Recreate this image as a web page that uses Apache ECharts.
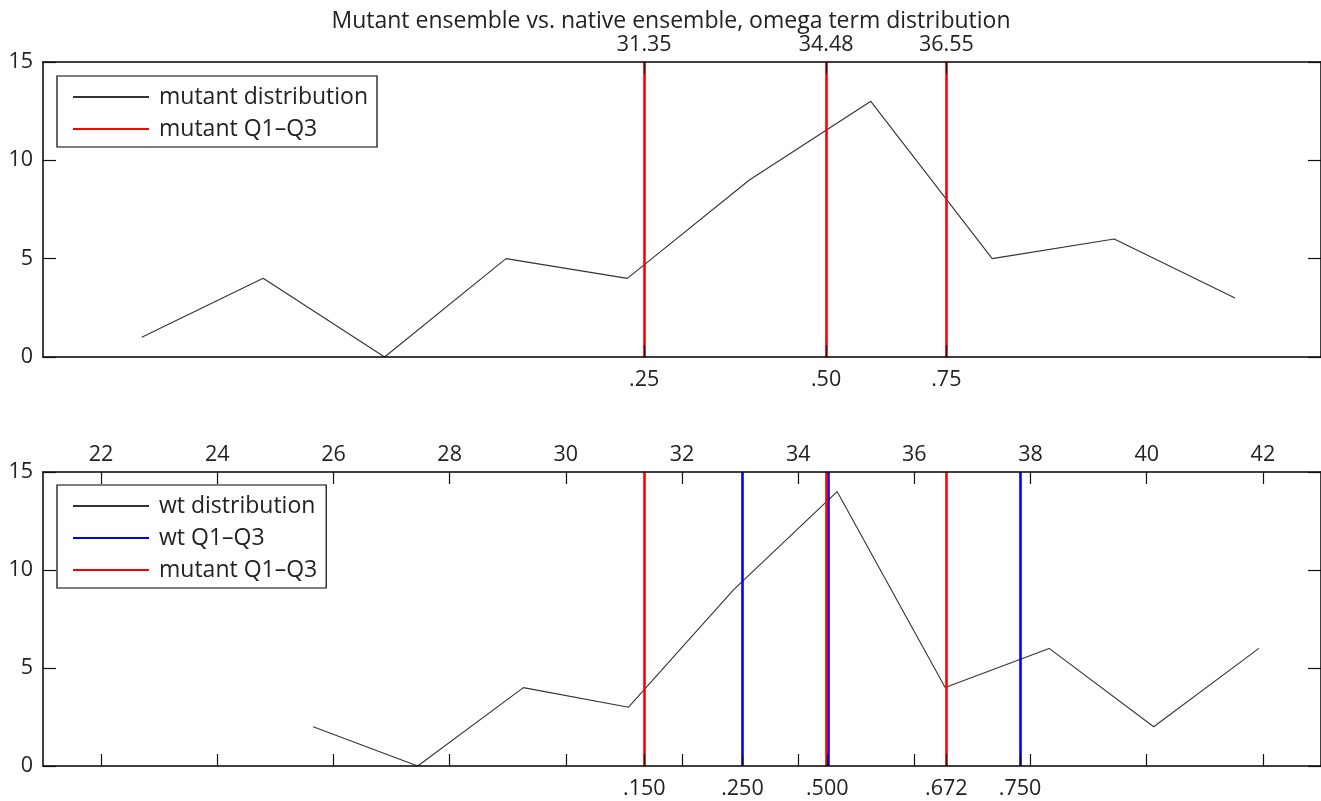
<!DOCTYPE html>
<html>
<head>
<meta charset="utf-8">
<script src="https://cdn.jsdelivr.net/npm/echarts@6/dist/echarts.min.js"></script>
<style>
html,body{margin:0;padding:0;background:#fff;}
#chart{width:1321px;height:801px;}
</style>
</head>
<body>
<div id="chart"></div>
<script>
// ---- data ----
const titleText = 'Mutant ensemble vs. native ensemble, omega term distribution';
const mutantX = [22.70, 24.79, 26.88, 28.97, 31.06, 33.16, 35.25, 37.34, 39.44, 41.52];
const mutantCount = [1, 4, 0, 5, 4, 9, 13, 5, 6, 3];
const wtX = [25.65, 27.45, 29.27, 31.08, 32.89, 34.67, 36.53, 38.32, 40.12, 41.93];
const wtCount = [2, 0, 4, 3, 9, 14, 4, 6, 2, 6];
const mutantQ = [31.35, 34.48, 36.55];
const mutantQTopLabels = ['31.35', '34.48', '36.55'];
const mutantQBottomLabels = ['.25', '.50', '.75'];
const wtQ = [33.04, 34.51, 37.82];
const wtTickValues = [22, 24, 26, 28, 30, 32, 34, 36, 38, 40, 42];
const wtTickLabels = ['22', '24', '26', '28', '30', '32', '34', '36', '38', '40', '42'];
const wtQuantTicks = [31.35, 33.04, 34.50, 36.55, 37.82];
const wtQuantLabels = ['.150', '.250', '.500', '.672', '.750'];

// ---- helpers ----
const FONT = 'Open Sans';
const TXT = '#222';
function lookup(values, labels) {
  return function (v) {
    for (let i = 0; i < values.length; i++) {
      if (Math.abs(values[i] - v) < 1e-6) return labels[i];
    }
    return '';
  };
}
function xAxisDef(gridIndex, position, tickVals, labelVals, labelFmt, margin) {
  return {
    type: 'value', gridIndex: gridIndex, position: position,
    min: 21, max: 43, z: 5,
    axisLine: { show: true, onZero: false, lineStyle: { color: '#000', width: 1.5 } },
    axisTick: { show: true, inside: true, length: 12, customValues: tickVals,
                lineStyle: { color: '#111', width: 1.2 } },
    axisLabel: { show: labelVals.length > 0, customValues: labelVals, formatter: labelFmt,
                 color: TXT, fontSize: 21.5, fontFamily: FONT, margin: margin },
    splitLine: { show: false }
  };
}
function yAxisDef(gridIndex, position, showLabel) {
  return {
    type: 'value', gridIndex: gridIndex, position: position,
    min: 0, max: 15, interval: 5, z: 5,
    axisLine: { show: true, onZero: false, lineStyle: { color: '#000', width: 1.5 } },
    axisTick: { show: true, inside: true, length: 13, lineStyle: { color: '#111', width: 1.2 } },
    axisLabel: { show: showLabel, color: TXT, fontSize: 21.5, fontFamily: FONT, margin: 10 },
    splitLine: { show: false }
  };
}
function vlines(name, values, color, xi, yi) {
  return {
    name: name, type: 'line', xAxisIndex: xi, yAxisIndex: yi, data: [],
    color: color, symbol: 'none',
    lineStyle: { color: color, width: 2.6 },
    markLine: {
      silent: true, symbol: ['none', 'none'], animation: false,
      label: { show: false },
      lineStyle: { color: color, width: 2.6, type: 'solid' },
      emphasis: { disabled: true },
      data: values.map(v => ({ xAxis: v }))
    }
  };
}
function zip(a, b) { return a.map((v, i) => [v, b[i]]); }

const legendCommon = {
  orient: 'vertical', itemWidth: 76, itemHeight: 14, itemGap: 8,
  padding: [9, 9, 6, 15],
  backgroundColor: '#fff', borderColor: '#000', borderWidth: 1.2, borderRadius: 0,
  selectedMode: false,
  textStyle: { color: TXT, fontSize: 23, fontFamily: FONT, lineHeight: 24, padding: [0, 0, 0, 5] },
  itemStyle: { opacity: 0 }
};

const chart = echarts.init(document.getElementById('chart'), null, { renderer: 'canvas' });
chart.setOption({
  animation: false,
  backgroundColor: '#fff',
  title: {
    text: titleText, left: 666, top: 5, textAlign: 'center',
    textStyle: { color: TXT, fontSize: 23, fontWeight: 'normal', fontFamily: FONT }
  },
  legend: [
    Object.assign({}, legendCommon, { left: 57, top: 76,
      data: ['mutant distribution', 'mutant Q1–Q3'] }),
    Object.assign({}, legendCommon, { left: 57, top: 485,
      data: ['wt distribution', 'wt Q1–Q3', 'mutant Q1–Q3'] })
  ],
  grid: [
    { left: 43, top: 62, width: 1279, height: 295, containLabel: false },
    { left: 43, top: 472, width: 1279, height: 294, containLabel: false }
  ],
  xAxis: [
    xAxisDef(0, 'bottom', mutantQ, mutantQ, lookup(mutantQ, mutantQBottomLabels), 12),
    xAxisDef(0, 'top', mutantQ, mutantQ, lookup(mutantQ, mutantQTopLabels), 6),
    xAxisDef(1, 'bottom', wtTickValues.concat(wtQuantTicks), wtQuantTicks, lookup(wtQuantTicks, wtQuantLabels), 12),
    xAxisDef(1, 'top', wtTickValues, wtTickValues, lookup(wtTickValues, wtTickLabels), 6)
  ],
  yAxis: [
    yAxisDef(0, 'left', true),
    yAxisDef(0, 'right', false),
    yAxisDef(1, 'left', true),
    yAxisDef(1, 'right', false)
  ],
  series: [
    {
      name: 'mutant distribution', type: 'line', xAxisIndex: 0, yAxisIndex: 0,
      data: zip(mutantX, mutantCount), symbol: 'none', color: '#333',
      lineStyle: { color: '#333', width: 1.1 }
    },
    vlines('mutant Q1–Q3', mutantQ, '#ff0000', 0, 0),
    {
      name: 'wt distribution', type: 'line', xAxisIndex: 2, yAxisIndex: 2,
      data: zip(wtX, wtCount), symbol: 'none', color: '#333',
      lineStyle: { color: '#333', width: 1.1 }
    },
    vlines('wt Q1–Q3', wtQ, '#0000ff', 2, 2),
    vlines('mutant Q1–Q3', mutantQ, '#ff0000', 2, 2)
  ]
});
</script>
</body>
</html>
